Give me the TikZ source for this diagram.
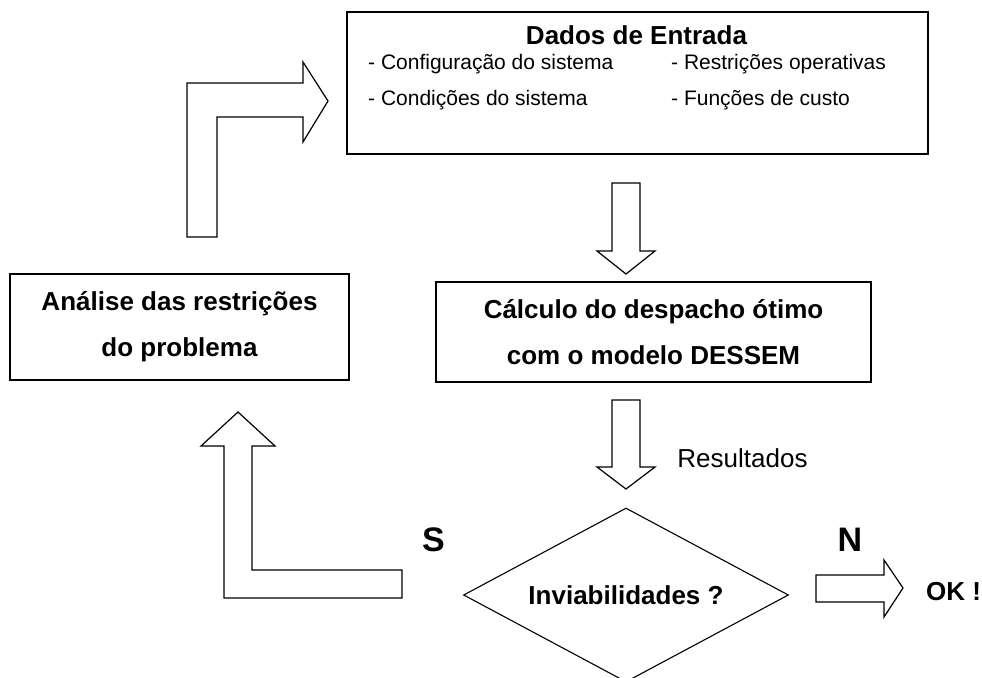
\documentclass[tikz,border=0pt]{standalone}
\usepackage{fontspec}
\setmainfont{Liberation Sans}
\usetikzlibrary{shapes.geometric,positioning}

\begin{document}
\begin{tikzpicture}[x=1pt,y=-1pt,
        caixa/.style={draw, rectangle, line width=1.8pt, align=center, inner sep=0pt},
        negrito/.style={font=\fontsize{26}{46}\selectfont\bfseries},
        item/.style={font=\fontsize{21}{24}\selectfont, anchor=west, inner sep=0pt},
        seta/.style={draw, line width=1.2pt, fill=white, line join=miter}]
    \useasboundingbox (0,0) rectangle (982,677);

    % caixas
    \node [caixa, minimum width=581, minimum height=142](dados) at (637.5,83){};
    \node [negrito](titulo) at (636.5,35){Dados de Entrada};
    \node [item](i1) at (368,64){- Configuração do sistema};
    \node [item](i2) at (671,64){- Restrições operativas};
    \node [item](i3) at (368,100){- Condições do sistema};
    \node [item](i4) at (671,100){- Funções de custo};

    \node [caixa, negrito, minimum width=339, minimum height=106](analise) at (179.5,327){Análise das restrições\\do problema};
    \node [caixa, negrito, minimum width=435, minimum height=100](calculo) at (653.5,332){Cálculo do despacho ótimo\\com o modelo DESSEM};

    \node [draw, diamond, aspect=1.9, line width=1.1pt, minimum width=325, minimum height=174, inner sep=0pt,
           negrito](inv) at (626,595){Inviabilidades ?};

    \node [font=\fontsize{26}{30}\selectfont](res) at (742.5,458){Resultados};
    \node [font=\fontsize{34}{36}\selectfont\bfseries](sim) at (433.5,540){S};
    \node [font=\fontsize{34}{36}\selectfont\bfseries](nao) at (850,540){N};
    \node [negrito, anchor=west, inner sep=0pt](ok) at (926,592){OK !};

    % setas
    \draw [seta] (187,237) -- (187,83) -- (303,83) -- (303,62) -- (328,101)
        -- (303,142) -- (303,117) -- (217,117) -- (217,237) -- cycle;
    \draw [seta] (612,183) -- (640,183) -- (640,251) -- (655,251) -- (626,274)
        -- (597,251) -- (612,251) -- cycle;
    \draw [seta] (612,400) -- (640,400) -- (640,467) -- (655,467) -- (626,489)
        -- (597,467) -- (612,467) -- cycle;
    \draw [seta] (402,598) -- (224,598) -- (224,446) -- (201,446) -- (238,412)
        -- (275,446) -- (252,446) -- (252,570) -- (402,570) -- cycle;
    \draw [seta] (816,575) -- (884,575) -- (884,560) -- (903,588) -- (884,617)
        -- (884,602) -- (816,602) -- cycle;
\end{tikzpicture}
\end{document}
